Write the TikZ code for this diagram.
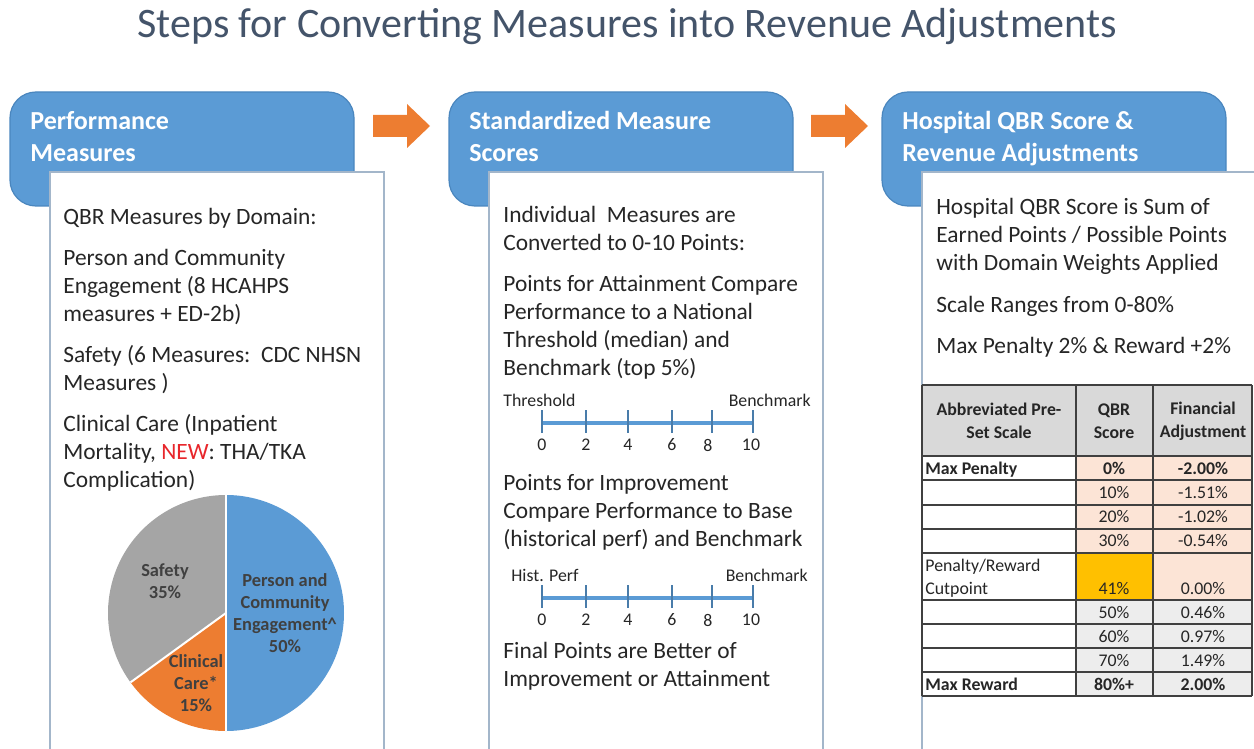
\documentclass[tikz,border=0pt]{standalone}
\usepackage{fontspec}
\setmainfont{Carlito}
\usetikzlibrary{positioning}
\definecolor{hdblue}{HTML}{5B9BD5}
\definecolor{hdline}{HTML}{4A86BE}
\definecolor{boxline}{HTML}{A3B6CA}
\definecolor{arrorange}{HTML}{ED7D31}
\definecolor{titlegray}{HTML}{44546A}
\definecolor{txt}{HTML}{262626}
\definecolor{newred}{HTML}{E8262B}
\definecolor{piegray}{HTML}{A5A5A5}
\definecolor{pietxt}{HTML}{404040}
\definecolor{thgray}{HTML}{D9D9D9}
\definecolor{tpeach}{HTML}{FCE4D6}
\definecolor{tgold}{HTML}{FFC000}
\definecolor{tlight}{HTML}{EDEDED}
\definecolor{tline}{HTML}{404040}
\begin{document}
\begin{tikzpicture}[x=0.5pt,y=-0.5pt]
\tikzset{hd/.style={fill=hdblue,draw=hdline,line width=0.6pt,rounded corners=13pt},
	bx/.style={fill=white,draw=boxline,line width=0.7pt},
	hdtxt/.style={anchor=base west,inner sep=0,align=left,text=white,font=\fontsize{13}{16}\selectfont\bfseries},
	tx/.style={anchor=base west,inner sep=0,align=left,text=txt,font=\fontsize{11.7}{14}\selectfont},
	scl/.style={draw=hdblue,line width=1.6pt},
	tck/.style={draw=hdblue!80!black,line width=0.6pt},
	sc/.style={inner sep=0,text=txt,font=\fontsize{8.9}{10}\selectfont},
	pl/.style={inner sep=0,align=center,text=pietxt,font=\fontsize{9.2}{11}\selectfont\bfseries},
	tb/.style={inner sep=0,text=txt,font=\fontsize{8.9}{11.5}\selectfont},
	tbb/.style={tb,font=\fontsize{8.9}{11.5}\selectfont\bfseries},
	tl/.style={draw=tline,line width=0.6pt}}
\useasboundingbox (0,0) rectangle (1254,749);
\node[anchor=base,inner sep=0,text=titlegray,font=\fontsize{21}{23}\selectfont] (title) at (627,38) {Steps for Converting Measures into Revenue Adjustments};
%% header boxes, body boxes and arrows
\foreach \x in {10,449,882}{
	\draw[hd] (\x,92) rectangle ++(344,114);
	\draw[bx] (\x+40,172) rectangle ++(334,600);
}
\foreach \x in {0,438}
	\fill[arrorange,shift={(\x,0)}] (373,115)--(407,115)--(407,104)--(430,126)--(407,148)--(407,137)--(373,137)--cycle;
\node[hdtxt] (h1) at (30,162) {Performance\\Measures};
\node[hdtxt] (h2) at (469,162) {Standardized Measure\\Scores};
\node[hdtxt] (h3) at (902,162) {Hospital QBR Score \&\\Revenue Adjustments};
%% box 1
\node[tx] (b1) at (63,487) {QBR Measures by Domain:\\[6.5pt]
	Person and Community\\Engagement (8 HCAHPS\\measures + ED-2b)\\[6.5pt]
	Safety (6 Measures:\ \ CDC NHSN\\Measures )\\[6.5pt]
	Clinical Care (Inpatient\\Mortality, \textcolor{newred}{NEW}: THA/TKA\\Complication)};
\begin{scope}[shift={(226,613)},yscale=-1]
	\fill[hdblue] (0,0)--(90:118) arc[start angle=90,end angle=-90,radius=118]--cycle;
	\fill[arrorange] (0,0)--(-90:118) arc[start angle=-90,end angle=-144,radius=118]--cycle;
	\fill[piegray] (0,0)--(-144:118) arc[start angle=-144,end angle=-270,radius=118]--cycle;
	\foreach \a in {90,-90,-144}
		\draw[white,line width=1pt] (0,0)--(\a:118);
\end{scope}
\node[pl] (p1) at (165,581) {Safety\\35\%};
\node[pl] (p2) at (285,613) {Person and\\Community\\Engagement\textasciicircum\\50\%};
\node[pl] (p3) at (196,683) {Clinical\\Care*\\15\%};
%% box 2
\node[tx] (b2) at (503,375) {Individual\ \ Measures are\\Converted to 0-10 Points:\\[6.5pt]
	Points for Attainment Compare\\Performance to a National\\Threshold (median) and\\Benchmark (top 5\%)};
\node[tx] (b2b) at (503,546) {Points for Improvement\\Compare Performance to Base\\(historical perf) and Benchmark};
\node[tx] (b2c) at (503,686) {Final Points are Better of\\Improvement or Attainment};
\foreach \s/\y/\lx/\lab/\rx in {1/423/503/Threshold/811,2/598/511/Hist. Perf/808}{
	\coordinate (s\s a) at (542,\y);
	\coordinate (s\s b) at (753,\y);
	\draw[scl] (s\s a)--(s\s b);
	\foreach \t/\m/\n in {542/542/0,586/586/2,628/628/4,672/672/6,712/708/8,753/751/10}{
		\draw[tck] (\t,\y-13)--(\t,\y+10);
		\node[sc] (n\s-\n) at (\m,\y+22) {\n};
	}
	\node[sc,anchor=base west] (lo\s) at (\lx,\y-17) {\lab};
	\node[sc,anchor=base east] (hi\s) at (\rx,\y-17) {Benchmark};
}
%% box 3
\node[tx] (b3) at (936,353) {Hospital QBR Score is Sum of\\Earned Points / Possible Points\\with Domain Weights Applied\\[7pt]
	Scale Ranges from 0-80\%\\[6.5pt]
	Max Penalty 2\% \& Reward +2\%};
%% table
\fill[thgray] (922,385) rectangle (1252,456);
\fill[tpeach] (1076,456) rectangle (1252,600);
\fill[tgold] (1076,553) rectangle (1153,600);
\fill[tlight] (1076,600) rectangle (1252,696);
\foreach \y in {385,456,480,505,529,553,600,624,648,672,696}
	\draw[tl] (922,\y)--(1252,\y);
\draw[tl,line width=1pt] (922,456)--(1252,456);
\foreach \x in {922,1076,1153,1252}
	\draw[tl] (\x,385)--(\x,696);
\node[tbb,align=center] (c1) at (999,421) {Abbreviated Pre-\\Set Scale};
\node[tbb,align=center] (c2) at (1114,421) {QBR\\Score};
\node[tbb,align=center] (c3) at (1203,421) {Financial\\Adjustment};
\node[tbb,anchor=base west] (r1) at (925,474) {Max Penalty};
\node[tbb,anchor=base] (q1) at (1114,474) {0\%};
\node[tbb,anchor=base] (f1) at (1203,474) {-2.00\%};
\foreach \i/\y/\q/\f in {2/498/10\%/-1.51\%,3/522/20\%/-1.02\%,4/546/30\%/-0.54\%,5/594/41\%/0.00\%,6/618/50\%/0.46\%,7/642/60\%/0.97\%,8/666/70\%/1.49\%}{
	\node[tb,anchor=base] (q\i) at (1114,\y) {\q};
	\node[tb,anchor=base] (f\i) at (1203,\y) {\f};
}
\node[tb,anchor=base west,align=left] (r5) at (925,594) {Penalty/Reward\\Cutpoint};
\node[tbb,anchor=base west] (r9) at (925,690) {Max Reward};
\node[tbb,anchor=base] (q9) at (1114,690) {80\%+};
\node[tbb,anchor=base] (f9) at (1203,690) {2.00\%};
\end{tikzpicture}
\end{document}
